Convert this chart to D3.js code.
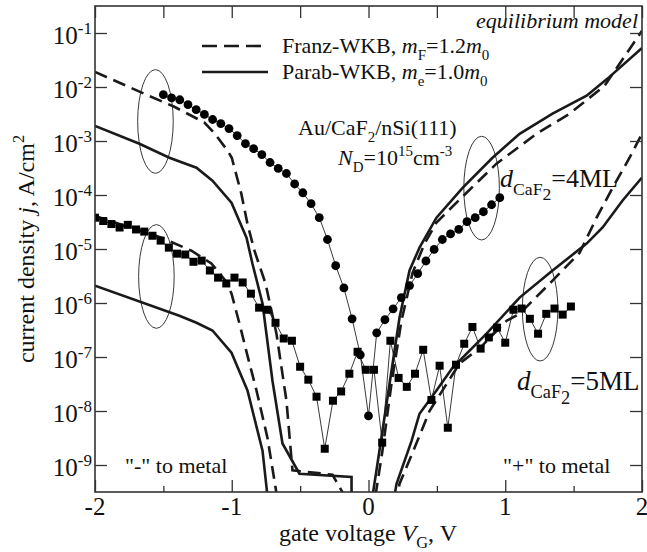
<!DOCTYPE html>
<html>
<head>
<meta charset="utf-8">
<script src="https://cdn.jsdelivr.net/npm/d3@7"></script>
<style>
body { margin: 0; background: white; }
text { font-family: "Liberation Serif", "Times New Roman", serif; fill: #111; }
</style>
</head>
<body>
<script>
// measured data, 4 ML CaF2 (circles) and 5 ML CaF2 (squares)
var circ4V = [-1.50,-1.44,-1.38,-1.32,-1.26,-1.20,-1.14,-1.08,-1.02,-0.96,-0.90,-0.84,-0.78,-0.72,-0.66,-0.60,-0.54,-0.48,-0.42,-0.36,-0.30,-0.24,-0.18,-0.12,-0.06,0.00,0.06,0.12,0.18,0.24,0.30,0.36,0.42,0.48,0.54,0.60,0.66,0.72,0.78,0.84,0.90,0.96];
var circ4J = [7.2e-3,6.3e-3,5.8e-3,4.7e-3,3.8e-3,3.1e-3,2.5e-3,2.1e-3,1.7e-3,1.26e-3,8.9e-4,7.2e-4,5.6e-4,4.0e-4,3.1e-4,2.5e-4,1.6e-4,1.1e-4,6.9e-5,3.8e-5,1.5e-5,4.9e-6,1.9e-6,5.1e-7,1.1e-7,8.1e-9,2.8e-7,4.9e-7,7.8e-7,1.26e-6,2.1e-6,3.5e-6,6.0e-6,9.8e-6,1.5e-5,1.9e-5,2.3e-5,3.2e-5,3.8e-5,4.9e-5,6.6e-5,8.9e-5];

var sq5V = [-2.00,-1.94,-1.88,-1.82,-1.76,-1.70,-1.64,-1.58,-1.52,-1.46,-1.40,-1.34,-1.28,-1.22,-1.16,-1.10,-1.04,-0.98,-0.92,-0.86,-0.80,-0.74,-0.68,-0.62,-0.56,-0.50,-0.44,-0.38,-0.32,-0.26,-0.20,-0.14,-0.08,-0.02,0.04,0.10,0.16,0.22,0.28,0.34,0.40,0.46,0.52,0.58,0.64,0.70,0.76,0.82,0.88,0.94,1.00,1.06,1.12,1.18,1.24,1.30,1.36,1.42,1.48];
var sq5J = [3.8e-5,3.3e-5,2.9e-5,2.5e-5,2.8e-5,2.3e-5,2.1e-5,1.76e-5,1.43e-5,1.06e-5,8.2e-6,7.9e-6,5.8e-6,6.1e-6,4.0e-6,2.95e-6,2.3e-6,2.95e-6,2.4e-6,1.49e-6,8.2e-7,7.5e-7,4.3e-7,2.2e-7,2.0e-7,6.6e-8,3.8e-8,1.84e-8,2.0e-9,1.55e-8,2.3e-8,4.9e-8,1.25e-7,5.8e-8,5.8e-8,2.6e-9,2.0e-7,4.1e-8,2.8e-8,4.9e-8,1.36e-7,1.6e-8,6.9e-8,4.9e-9,7.2e-8,1.76e-7,3.6e-7,1.43e-7,2.3e-7,3.5e-7,1.84e-7,7.5e-7,7.9e-7,5.1e-7,2.7e-7,6.3e-7,7.9e-7,6.1e-7,8.6e-7];

// simulated curves
var franz4V = [-2.00,-1.64,-1.42,-1.20,-1.13,-1.03,-1.00,-0.93,-0.885,-0.834,-0.753,-0.673,-0.60,-0.556,-0.263,-0.176,0.051,0.102,0.168,0.241,0.322,0.41,0.497,0.717,0.936,1.229,1.47,1.726,2.00];
var franz4J = [1.9e-2,7.5e-3,4.3e-3,2.2e-3,1.43e-3,6.6e-4,4.9e-4,1.06e-4,2.9e-5,9.3e-6,2.3e-6,2.7e-7,1.55e-8,8e-10,6.6e-10,2.7e-10,2.7e-10,1.84e-9,3.2e-8,4.7e-7,3.6e-6,1.26e-5,3.1e-5,1.1e-4,3.8e-4,1.36e-3,3.2e-3,1.05e-2,1.1e-1];

var parab4V = [-2.00,-1.675,-1.456,-1.258,-1.141,-1.002,-0.892,-0.849,-0.775,-0.702,-0.629,-0.505,-0.124,-0.124,0.03,0.08,0.154,0.227,0.30,0.373,0.497,0.688,0.907,1.105,1.346,1.595,1.748,2.00];
var parab4J = [1.9e-3,8.9e-4,4.9e-4,3.2e-4,1.84e-4,7.2e-5,1.62e-5,5.4e-6,9.8e-7,3.6e-8,2.5e-9,6.9e-10,6.0e-10,2.7e-10,2.7e-10,1.84e-9,3.2e-8,5.4e-7,4.0e-6,1.06e-5,3.8e-5,1.36e-4,4.9e-4,1.36e-3,3.2e-3,6.9e-3,1.43e-2,5.3e-2];

var franz5V = [-2.00,-1.514,-1.295,-1.149,-1.046,-1.002,-0.944,-0.885,-0.819,-0.739,-0.67,0.212,0.227,0.358,0.446,0.666,0.812,1.01,1.105,1.346,1.544,1.668,1.785,1.909,2.00];
var franz5J = [4.1e-5,1.62e-5,9.3e-6,5.4e-6,2.6e-6,1.5e-6,4.2e-7,1.06e-7,2.4e-8,3.2e-9,2.7e-10,2.7e-10,4.5e-10,2.8e-9,1.0e-8,7.6e-8,1.45e-7,4.7e-7,6.3e-7,2.6e-6,8.5e-6,3.8e-5,1.36e-4,4.9e-4,1.36e-3];

var parab5V = [-2.00,-1.383,-1.258,-1.141,-1.002,-0.885,-0.775,-0.739,0.19,0.205,0.315,0.373,0.497,0.614,0.863,1.105,1.346,1.595,1.712,1.858,2.00];
var parab5J = [2.1e-6,5.8e-7,4.3e-7,3.1e-7,1.2e-7,2.4e-8,1.84e-9,2.7e-10,2.7e-10,4.5e-10,2.8e-9,8.9e-9,2.4e-8,6.3e-8,2.7e-7,1.26e-6,4.0e-6,1.26e-5,2.5e-5,7.9e-5,2.1e-4];

// ellipses marking which curve belongs to which data set
var ellV = [-1.558,-1.551,0.827,1.255];
var ellJ = [2.3e-3,3.1e-6,1.34e-4,7.7e-7];

var xTicks = [-2,-1,0,1,2];
var xMinor = [-1.5,-0.5,0.5,1.5];
var yExp = [-1,-2,-3,-4,-5,-6,-7,-8,-9];

var w = 647, h = 552;
var padL = 95, padR = 642, padT = 6, padB = 492;

var svg = d3.select("body").append("svg")
	.attr("width", w)
	.attr("height", h);

var x = d3.scaleLinear().domain([-2, 2]).range([padL, padR]);
var y = d3.scaleLog().domain([Math.pow(10, -9.5), Math.pow(10, -0.5)]).range([padB, padT]);

function pts(vs, js) {
	return vs.map(function(v, i) { return [v, js[i]]; });
}

svg.append("clipPath").attr("id", "plot")
	.append("rect")
	.attr("x", padL).attr("y", padT)
	.attr("width", padR - padL).attr("height", padB - padT);

var plot = svg.append("g").attr("clip-path", "url(#plot)");

var line = d3.line()
	.x(function(d) { return x(d[0]); })
	.y(function(d) { return y(d[1]); });

// ellipses
plot.selectAll("ellipse").data(pts(ellV, ellJ)).enter().append("ellipse")
	.attr("cx", function(d) { return x(d[0]); })
	.attr("cy", function(d) { return y(d[1]); })
	.attr("rx", function(d) { return x(d[0] + 0.13) - x(d[0]); })
	.attr("ry", function(d) { return y(d[1] / Math.pow(10, 0.96)) - y(d[1]); })
	.style("fill", "none")
	.style("stroke", "#222")
	.style("stroke-width", 0.9);

// thin lines through the measured points
[[circ4V, circ4J], [sq5V, sq5J]].forEach(function(s) {
	plot.append("path")
		.attr("d", line(pts(s[0], s[1])))
		.style("fill", "none")
		.style("stroke", "#222")
		.style("stroke-width", 0.9);
});

// model curves
var curves = [
	[franz4V, franz4J, "13,7"],
	[parab4V, parab4J, null],
	[franz5V, franz5J, "13,7"],
	[parab5V, parab5J, null]
];
curves.forEach(function(c) {
	plot.append("path")
		.attr("d", line(pts(c[0], c[1])))
		.style("fill", "none")
		.style("stroke", "#1a1a1a")
		.style("stroke-width", 2.6)
		.style("stroke-dasharray", c[2]);
});

// markers
plot.selectAll("circle.m").data(pts(circ4V, circ4J)).enter().append("circle")
	.attr("class", "m")
	.attr("cx", function(d) { return x(d[0]); })
	.attr("cy", function(d) { return y(d[1]); })
	.attr("r", 4.4)
	.style("fill", "#000");

plot.selectAll("rect.m").data(pts(sq5V, sq5J)).enter().append("rect")
	.attr("class", "m")
	.attr("x", function(d) { return x(d[0]) - 4; })
	.attr("y", function(d) { return y(d[1]) - 4; })
	.attr("width", 8)
	.attr("height", 8)
	.style("fill", "#000");

// axes, ticks pointing inward
svg.append("g").attr("transform", "translate(0," + padB + ")")
	.call(d3.axisBottom(x).tickValues(xTicks).tickSize(-12).tickFormat(""));
svg.append("g").attr("transform", "translate(0," + padB + ")")
	.call(d3.axisBottom(x).tickValues(xMinor).tickSize(-6).tickFormat(""));
svg.append("g").attr("transform", "translate(0," + padT + ")")
	.call(d3.axisTop(x).tickValues(xTicks.concat(xMinor)).tickSize(-12).tickFormat(""));
var decades = yExp.map(function(e) { return Math.pow(10, e); });
svg.append("g").attr("transform", "translate(" + padL + ",0)")
	.call(d3.axisLeft(y).tickValues(decades).tickSize(-12).tickFormat(""));
svg.append("g").attr("transform", "translate(" + padR + ",0)")
	.call(d3.axisRight(y).tickValues(decades).tickSize(-12).tickFormat(""));
svg.selectAll(".domain").remove();
svg.selectAll(".tick line").style("stroke", "#333").style("stroke-width", 1.3);

svg.append("rect")
	.attr("x", padL).attr("y", padT)
	.attr("width", padR - padL).attr("height", padB - padT)
	.style("fill", "none")
	.style("stroke", "#333")
	.style("stroke-width", 1.6);

// rich text helper: parts = [text, kind]
function rich(sel, parts, size) {
	var shift = 0;
	parts.forEach(function(p) {
		var kind = p[1] || "";
		var target = 0;
		if (/sub2/.test(kind)) target = size * 0.5;
		else if (/sub/.test(kind)) target = size * 0.3;
		else if (/sup/.test(kind)) target = -size * 0.42;
		var t = sel.append("tspan").text(p[0])
			.attr("dy", target - shift)
			.style("font-size", (target ? size * 0.68 : size) + "px");
		if (/^i/.test(kind)) t.style("font-style", "italic");
		shift = target;
	});
	return sel;
}

function label(px, py, parts, size, anchor) {
	var t = svg.append("text")
		.attr("x", px).attr("y", py)
		.style("font-size", size + "px")
		.attr("text-anchor", anchor || "start");
	return rich(t, parts, size);
}

// tick labels
svg.selectAll("text.xt").data(xTicks).enter().append("text")
	.attr("class", "xt")
	.attr("x", function(d) { return x(d); })
	.attr("y", padB + 23)
	.attr("text-anchor", "middle")
	.style("font-size", "25px")
	.text(function(d) { return d; });

yExp.forEach(function(e) {
	label(padL - 3, y(Math.pow(10, e)) + 11, [["10"], [String(e), "sup"]], 25, "end");
});

// axis titles
label(368, 541, [["gate voltage "], ["V", "i"], ["G", "sub"], [", V"]], 24, "middle");
var yt = svg.append("text")
	.attr("transform", "translate(34,249) rotate(-90)")
	.attr("text-anchor", "middle")
	.style("font-size", "24px");
rich(yt, [["current density "], ["j", "i"], [", A/cm"], ["2", "sup"]], 24);

// legend
svg.append("line").attr("x1", 202).attr("x2", 262).attr("y1", 46).attr("y2", 46)
	.style("stroke", "#1a1a1a").style("stroke-width", 2.6).style("stroke-dasharray", "15,7");
svg.append("line").attr("x1", 202).attr("x2", 268).attr("y1", 72).attr("y2", 72)
	.style("stroke", "#1a1a1a").style("stroke-width", 2.6);
label(282, 53, [["Franz-WKB, "], ["m", "i"], ["F", "sub"], ["=1.2"], ["m", "i"], ["0", "sub"]], 22);
label(282, 79, [["Parab-WKB, "], ["m", "i"], ["e", "sub"], ["=1.0"], ["m", "i"], ["0", "sub"]], 22);

// annotations
label(638, 28, [["equilibrium model", "i"]], 22, "end");
label(298, 135, [["Au/CaF"], ["2", "sub"], ["/nSi(111)"]], 22);
label(338, 165, [["N", "i"], ["D", "sub"], ["=10"], ["15", "sup"], ["cm"], ["-3", "sup"]], 22);
label(500, 187, [["d", "i"], ["CaF", "sub"], ["2", "sub2"], ["=4ML"]], 26);
label(517, 390, [["d", "i"], ["CaF", "sub"], ["2", "sub2"], ["=5ML"]], 27);
label(125, 473, [["\"-\" to metal"]], 22);
label(503, 473, [["\"+\" to metal"]], 22);
</script>
</body>
</html>
